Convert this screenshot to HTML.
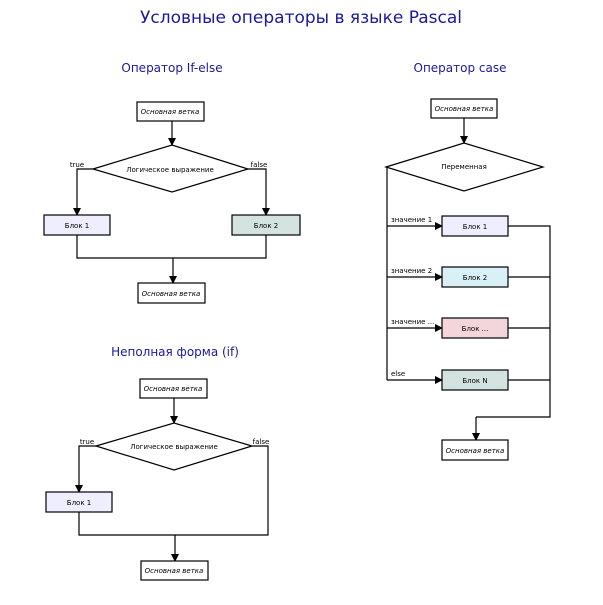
<!DOCTYPE html>
<html><head><meta charset="utf-8"><style>body{margin:0;background:#fff}</style></head><body>
<svg width="603" height="600" xmlns="http://www.w3.org/2000/svg" font-family="'DejaVu Sans','Liberation Sans',sans-serif">
<defs><marker id="a" markerWidth="8" markerHeight="8" refX="7" refY="4" orient="auto" markerUnits="userSpaceOnUse"><path d="M0,0 L8,4 L0,8 z" fill="#000"/></marker></defs>
<text x="301" y="23" font-size="17" fill="#1a1a9a" text-anchor="middle">Условные операторы в языке Pascal</text>
<text x="172" y="72" font-size="12" fill="#1a1a9a" text-anchor="middle">Оператор If-else</text>
<text x="460" y="72" font-size="12" fill="#1a1a9a" text-anchor="middle">Оператор case</text>
<text x="175" y="356" font-size="12" fill="#1a1a9a" text-anchor="middle">Неполная форма (if)</text>
<g stroke="#000" stroke-width="1.2" fill="none" font-size="7">
<!-- if-else -->
<rect x="137" y="102" width="67" height="19" fill="#fff"/>
<line x1="172" y1="121" x2="172" y2="145" marker-end="url(#a)"/>
<polygon points="93,169 172,145 248,169 172,192" fill="#fff"/>
<polyline points="93,169 77,169 77,215" marker-end="url(#a)"/>
<polyline points="248,169 266,169 266,215" marker-end="url(#a)"/>
<rect x="44" y="215" width="66" height="20" fill="#eeeeff"/>
<rect x="232" y="215" width="68" height="20" fill="#d5e3e0"/>
<polyline points="77,235 77,258 266,258 266,235"/>
<line x1="173" y1="258" x2="173" y2="283" marker-end="url(#a)"/>
<rect x="138" y="283" width="67" height="20" fill="#fff"/>
<!-- partial -->
<rect x="140" y="379" width="67" height="19" fill="#fff"/>
<line x1="174" y1="398" x2="174" y2="423" marker-end="url(#a)"/>
<polygon points="96,446 174,423 252,446 174,470" fill="#fff"/>
<polyline points="96,446 79,446 79,492" marker-end="url(#a)"/>
<rect x="46" y="492" width="66" height="20" fill="#eeeeff"/>
<polyline points="79,512 79,535 268,535 268,446 252,446"/>
<line x1="175" y1="535" x2="175" y2="561" marker-end="url(#a)"/>
<rect x="141" y="561" width="67" height="19" fill="#fff"/>
<!-- case -->
<rect x="431" y="99" width="66" height="19" fill="#fff"/>
<line x1="464" y1="118" x2="464" y2="143" marker-end="url(#a)"/>
<polygon points="386,167 464,143 543,167 464,191" fill="#fff"/>
<polyline points="386,167 387,167 387,380"/>
<line x1="387" y1="226" x2="442" y2="226" marker-end="url(#a)"/>
<line x1="387" y1="277" x2="442" y2="277" marker-end="url(#a)"/>
<line x1="387" y1="328" x2="442" y2="328" marker-end="url(#a)"/>
<line x1="387" y1="380" x2="442" y2="380" marker-end="url(#a)"/>
<rect x="442" y="216" width="66" height="20" fill="#eeeeff"/>
<rect x="442" y="267" width="66" height="20" fill="#d8f0f6"/>
<rect x="442" y="318" width="66" height="20" fill="#f3d6dc"/>
<rect x="442" y="370" width="66" height="20" fill="#d5e3e0"/>
<polyline points="508,226 550,226 550,417 476,417"/>
<line x1="508" y1="277" x2="550" y2="277"/>
<line x1="508" y1="328" x2="550" y2="328"/>
<line x1="508" y1="380" x2="550" y2="380"/>
<line x1="476" y1="417" x2="476" y2="440" marker-end="url(#a)"/>
<rect x="442" y="440" width="66" height="20" fill="#fff"/>
</g>
<g font-size="7" fill="#000" text-anchor="middle">
<text x="170" y="114" font-style="italic">Основная ветка</text>
<text x="170" y="172">Логическое выражение</text>
<text x="77" y="167" font-size="7">true</text>
<text x="259" y="167">false</text>
<text x="77" y="228">Блок 1</text>
<text x="266" y="228">Блок 2</text>
<text x="171" y="296" font-style="italic">Основная ветка</text>
<text x="173" y="391" font-style="italic">Основная ветка</text>
<text x="174" y="449">Логическое выражение</text>
<text x="87" y="444">true</text>
<text x="261" y="444">false</text>
<text x="79" y="505">Блок 1</text>
<text x="174" y="573" font-style="italic">Основная ветка</text>
<text x="464" y="111" font-style="italic">Основная ветка</text>
<text x="464" y="169">Переменная</text>
<text x="475" y="229">Блок 1</text>
<text x="475" y="280">Блок 2</text>
<text x="475" y="331">Блок ...</text>
<text x="475" y="383">Блок N</text>
<text x="475" y="453" font-style="italic">Основная ветка</text>
<g text-anchor="start">
<text x="391" y="222">значение 1</text>
<text x="391" y="273">значение 2</text>
<text x="391" y="324">значение ...</text>
<text x="391" y="376">else</text>
</g>
</g>
</svg>
</body></html>
